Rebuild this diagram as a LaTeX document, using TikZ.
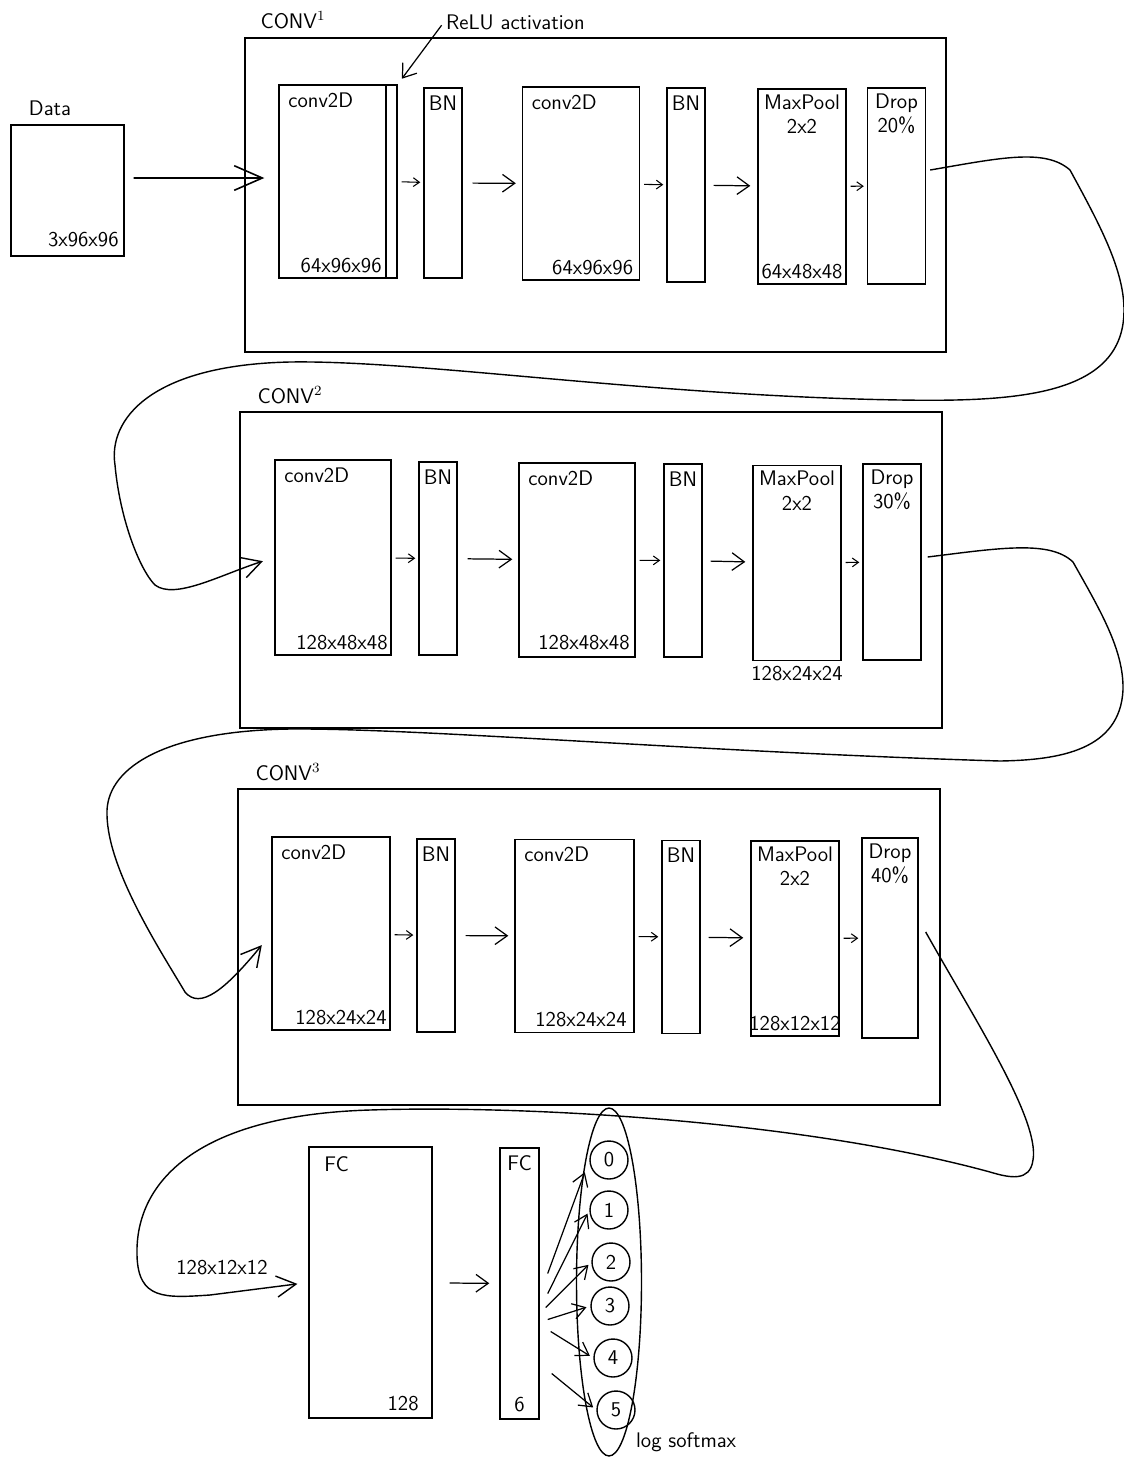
\documentclass[tikz,border=0pt]{standalone}
\usepackage{tikz}
\usetikzlibrary{shapes.geometric, positioning, arrows.meta}

\begin{document}
\begin{tikzpicture}[x=0.02cm, y=-0.02cm,
          layer/.style={draw, line width=0.8pt, inner sep=0pt},
          convbox/.style={layer, minimum width=2.34cm, minimum height=3.86cm},
          bnbox/.style={layer, minimum width=0.76cm, minimum height=3.86cm},
          poolbox/.style={layer, minimum width=1.76cm, minimum height=3.9cm},
          dropbox/.style={layer, minimum width=1.16cm, minimum height=3.92cm},
          blockframe/.style={layer, minimum width=14.04cm, minimum height=6.3cm},
          fcbox/.style={layer, minimum height=5.42cm},
          outc/.style={draw, circle, line width=0.8pt, minimum size=0.76cm, inner sep=0pt},
          txt/.style={font=\sffamily\fontsize{12}{14}\selectfont, inner sep=1pt, align=center},
          sarr/.style={-{Straight Barb[length=3.5pt,width=5pt]}, line width=0.6pt,
                       shorten <=0.08cm, shorten >=0.06cm},
          marr/.style={-{Straight Barb[length=7pt,width=10pt]}, line width=0.7pt,
                       shorten <=0.2cm, shorten >=0.12cm},
          farr/.style={-{Straight Barb[length=7pt,width=9pt]}, line width=0.7pt,
                       shorten >=0.08cm},
          barr/.style={-{Straight Barb[length=16pt,width=14pt]}, line width=0.9pt},
          curv/.style={-{Straight Barb[length=11pt,width=12pt]}, line width=0.8pt}
        ]
        \useasboundingbox (0,0) rectangle (1124,1458);

        % Data
        \node[txt] (dl) at (50,108) {Data};
        \node[layer, minimum width=2.26cm, minimum height=2.62cm] (data) at (67.5,190.5) {};
        \node[txt, anchor=south east] (ds) at ([shift={(-4,-8)}]data.south east) {3x96x96};

        % Block 1
        \node[blockframe, minimum width=14.02cm, minimum height=6.28cm] (f1) at (595.5,195) {};
        \node[txt] (t1) at (293,20) {CONV$^1$};
        \node[convbox, minimum width=2.36cm] (c1a) at (338,181.5) {};
        \node[layer, minimum width=0.22cm, minimum height=3.86cm, anchor=north east] (r1)
              at (c1a.north east) {};
        \node[bnbox, minimum height=3.8cm] (b1a) at (443,183) {};
        \node[convbox] (c1b) at (581,183.5) {};
        \node[bnbox, minimum height=3.88cm] (b1b) at (686,185) {};
        \node[poolbox] (p1) at (802,186.5) {};
        \node[dropbox] (d1) at (896.5,186) {};
        \node[txt, anchor=north west] (c1at) at ([shift={(8,6)}]c1a.north west) {conv2D};
        \node[txt, anchor=south east] (c1as) at ([shift={(-14,-4)}]c1a.south east) {64x96x96};
        \node[txt, anchor=north] (b1at) at ([shift={(0,6)}]b1a.north) {BN};
        \node[txt, anchor=north west] (c1bt) at ([shift={(8,6)}]c1b.north west) {conv2D};
        \node[txt, anchor=south east] (c1bs) at ([shift={(-5,-4)}]c1b.south east) {64x96x96};
        \node[txt, anchor=north] (b1bt) at ([shift={(0,6)}]b1b.north) {BN};
        \node[txt, anchor=north] (p1t) at ([shift={(0,4)}]p1.north) {MaxPool\\2x2};
        \node[txt, anchor=south] (p1s) at ([shift={(0,-4)}]p1.south) {64x48x48};
        \node[txt, anchor=north] (d1t) at ([shift={(0,4)}]d1.north) {Drop\\20\%};
        \node[txt, anchor=west] (relu) at (444,22) {ReLU activation};
        \draw[marr, shorten <=0.08cm, shorten >=0.14cm] (relu.west) -- (r1.north east);
        \draw[barr, shorten <=0.18cm, shorten >=0.28cm]
              ([yshift=0.25cm]data.east) -- ([yshift=0.07cm]c1a.west);
        \draw[sarr] (r1) -- (b1a);
        \draw[marr] (b1a) -- (c1b);
        \draw[sarr] (c1b) -- (b1b);
        \draw[marr, shorten <=0.16cm, shorten >=0.14cm] (b1b) -- (p1);
        \draw[sarr] (p1) -- (d1);

        % Block 2
        \node[blockframe, minimum height=6.32cm] (f2) at (591,570) {};
        \node[txt] (t2) at (290,395) {CONV$^2$};
        \node[convbox, minimum width=2.32cm, minimum height=3.9cm] (c2a) at (333,557.5) {};
        \node[bnbox] (b2a) at (438,558.5) {};
        \node[convbox, minimum width=2.32cm, minimum height=3.88cm] (c2b) at (577,560) {};
        \node[bnbox] (b2b) at (683,560.5) {};
        \node[poolbox] (p2) at (797,563) {};
        \node[dropbox] (d2) at (892,562) {};
        \node[txt, anchor=north west] (c2at) at ([shift={(8,6)}]c2a.north west) {conv2D};
        \node[txt, anchor=south east] (c2as) at ([shift={(-2,-4)}]c2a.south east) {128x48x48};
        \node[txt, anchor=north] (b2at) at ([shift={(0,6)}]b2a.north) {BN};
        \node[txt, anchor=north west] (c2bt) at ([shift={(8,6)}]c2b.north west) {conv2D};
        \node[txt, anchor=south east] (c2bs) at ([shift={(-4,-6)}]c2b.south east) {128x48x48};
        \node[txt, anchor=north] (b2bt) at ([shift={(0,6)}]b2b.north) {BN};
        \node[txt, anchor=north] (p2t) at ([shift={(0,4)}]p2.north) {MaxPool\\2x2};
        \node[txt, anchor=north] (p2s) at ([shift={(0,3)}]p2.south) {128x24x24};
        \node[txt, anchor=north] (d2t) at ([shift={(0,4)}]d2.north) {Drop\\30\%};
        \draw[sarr] (c2a) -- (b2a);
        \draw[marr] (b2a) -- (c2b);
        \draw[sarr] (c2b) -- (b2b);
        \draw[marr, shorten <=0.16cm, shorten >=0.14cm] (b2b) -- (p2);
        \draw[sarr] (p2) -- (d2);

        % Block 3
        \node[blockframe, minimum height=6.32cm] (f3) at (589,947) {};
        \node[txt] (t3) at (288,772) {CONV$^3$};
        \node[convbox, minimum width=2.36cm] (c3a) at (331,933.5) {};
        \node[bnbox] (b3a) at (436,935.5) {};
        \node[convbox, minimum width=2.38cm] (c3b) at (574.5,936) {};
        \node[bnbox] (b3b) at (681,937) {};
        \node[poolbox] (p3) at (795,938.5) {};
        \node[dropbox, minimum width=1.12cm, minimum height=4cm] (d3) at (890,938) {};
        \node[txt, anchor=north west] (c3at) at ([shift={(8,6)}]c3a.north west) {conv2D};
        \node[txt, anchor=south east] (c3as) at ([shift={(-2,-4)}]c3a.south east) {128x24x24};
        \node[txt, anchor=north] (b3at) at ([shift={(0,6)}]b3a.north) {BN};
        \node[txt, anchor=north west] (c3bt) at ([shift={(8,6)}]c3b.north west) {conv2D};
        \node[txt, anchor=south east] (c3bs) at ([shift={(-6,-4)}]c3b.south east) {128x24x24};
        \node[txt, anchor=north] (b3bt) at ([shift={(0,6)}]b3b.north) {BN};
        \node[txt, anchor=north] (p3t) at ([shift={(0,4)}]p3.north) {MaxPool\\2x2};
        \node[txt, anchor=south] (p3s) at ([shift={(0,-4)}]p3.south) {128x12x12};
        \node[txt, anchor=north] (d3t) at ([shift={(0,4)}]d3.north) {Drop\\40\%};
        \draw[sarr] (c3a) -- (b3a);
        \draw[marr] (b3a) -- (c3b);
        \draw[sarr] (c3b) -- (b3b);
        \draw[marr, shorten <=0.16cm, shorten >=0.14cm] (b3b) -- (p3);
        \draw[sarr] (p3) -- (d3);

        % Dense head
        \node[fcbox, minimum width=2.46cm] (fc1) at (370.5,1282.5) {};
        \node[fcbox, minimum width=0.78cm] (fc2) at (519.5,1283.5) {};
        \node[txt, anchor=north west] (fc1t) at ([shift={(14,8)}]fc1.north west) {FC};
        \node[txt, anchor=south east] (fc1s) at ([shift={(-12,-6)}]fc1.south east) {128};
        \node[txt, anchor=north] (fc2t) at ([shift={(0,6)}]fc2.north) {FC};
        \node[txt, anchor=south] (fc2s) at ([shift={(0,-6)}]fc2.south) {6};
        \node[txt] (fcin) at (222,1268) {128x12x12};
        \draw[marr, shorten <=0.34cm, shorten >=0.2cm] (fc1) -- (fc2);

        % Links between blocks
        \draw[curv, shorten >=0.24cm] ([shift={(4,-16)}]d1.east)
              .. controls (1000,158) and (1045,148) .. (1070,170)
              .. controls (1100,225) and (1124,270) .. (1124,310)
              .. controls (1124,395) and (1020,402) .. (900,400)
              .. controls (650,396) and (420,360) .. (290,362)
              .. controls (150,365) and (108,420) .. (115,465)
              .. controls (120,520) and (140,570) .. (155,585)
              .. controls (175,600) and (220,575) .. (c2a.west);
        \draw[curv, shorten >=0.3cm] ([shift={(6,-5)}]d2.east)
              .. controls (1000,548) and (1050,540) .. (1073,562)
              .. controls (1100,610) and (1124,650) .. (1123,690)
              .. controls (1120,750) and (1060,760) .. (1000,761)
              .. controls (700,752) and (420,728) .. (290,729)
              .. controls (160,731) and (105,770) .. (107,815)
              .. controls (108,870) and (160,950) .. (185,992)
              .. controls (200,1010) and (225,990) .. (c3a.west);
        \draw[curv, shorten >=0.22cm] ([shift={(7,-6)}]d3.east)
              .. controls (975,1020) and (1040,1120) .. (1033,1160)
              .. controls (1030,1182) and (1010,1178) .. (990,1172)
              .. controls (800,1120) and (520,1105) .. (370,1110)
              .. controls (200,1115) and (135,1180) .. (137,1255)
              .. controls (138,1300) and (165,1298) .. (210,1295)
              -- (fc1.west);

        % Outputs
        \node[draw, ellipse, line width=0.8pt, inner sep=0pt,
              minimum width=1.3cm, minimum height=6.96cm] (sm) at (609,1282) {};
        \node[outc, txt] (o0) at (609,1160) {0};
        \node[outc, txt] (o1) at (609,1210) {1};
        \node[outc, txt] (o2) at (611,1262) {2};
        \node[outc, txt] (o3) at (610,1306) {3};
        \node[outc, txt] (o4) at (613,1358) {4};
        \node[outc, txt] (o5) at (616,1410) {5};
        \node[txt, anchor=west] (lsm) at (634,1442) {log softmax};
        \draw[farr, shorten >=0.26cm] ([shift={(8,-10)}]fc2.east) -- (o0.west);
        \draw[farr] ([shift={(8,10)}]fc2.east) -- (o1.west);
        \draw[farr] ([shift={(6,24)}]fc2.east) -- (o2.west);
        \draw[farr] ([shift={(8,36)}]fc2.east) -- (o3.west);
        \draw[farr] ([shift={(11,48)}]fc2.east) -- (o4.west);
        \draw[farr] ([shift={(12,90)}]fc2.east) -- (o5.west);
      \end{tikzpicture}
\end{document}
